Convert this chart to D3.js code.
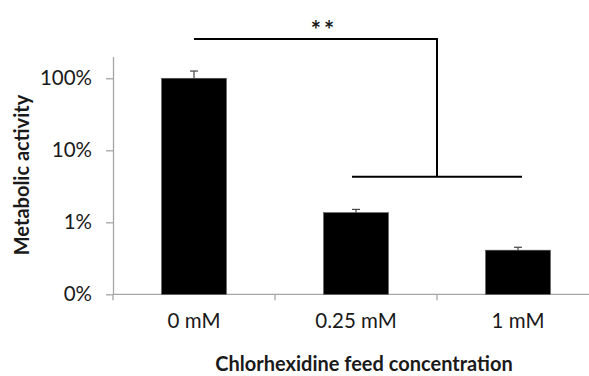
<!DOCTYPE html>
<html>
<head>
  <meta charset="utf-8">
  <script src="https://d3js.org/d3.v7.min.js"></script>
  <style>
    body { margin: 0; background: #fff; }
    svg text { font-family: Lato, "Open Sans", sans-serif; fill: #1a1a1a; }
  </style>
</head>
<body>
  <script type="text/javascript">
    // data
    var categories = ["0 mM", "0.25 mM", "1 mM"];
    var activity = [1.0, 0.0136, 0.0041];     // fraction of control
    var errors = [0.26, 0.0015, 0.0004];
    var tickValues = [0.001, 0.01, 0.1, 1];
    var tickLabels = ["0%", "1%", "10%", "100%"];
    var bracketTop = 3.5;      // level of the "**" bracket
    var bracketLow = 0.043;

    var w = 589;
    var h = 376;
    var plotLeft = 113, plotBottom = 294.3, plotTop = 56.6, plotRight = 599;

    var svg = d3.select("body")
      .append("svg")
      .attr("width", w)
      .attr("height", h);

    var yScale = d3.scaleLog()
                   .domain([0.001, 2])
                   .range([plotBottom, plotTop]);

    var xScale = d3.scaleBand()
                   .domain(categories)
                   .range([plotLeft, plotRight])
                   .paddingInner(0.6)
                   .paddingOuter(0.3);

    var step = xScale.step();

    // y axis
    var yAxis = d3.axisLeft(yScale)
                  .tickValues(tickValues)
                  .tickFormat(function(d, i){ return tickLabels[i]; })
                  .tickSize(7)
                  .tickSizeOuter(0)
                  .tickPadding(14);

    var gy = svg.append("g")
      .attr("transform", "translate(" + plotLeft + ",0)")
      .call(yAxis);
    gy.selectAll("path, line").attr("stroke", "#a6a6a6").attr("stroke-width", 1.3);
    gy.selectAll("text")
      .style("font-size", "20.5px")
      .style("font-family", "Lato, sans-serif")
      .attr("fill", "#1a1a1a");

    // x axis line + boundary ticks
    svg.append("line")
      .attr("x1", plotLeft).attr("x2", plotRight)
      .attr("y1", plotBottom).attr("y2", plotBottom)
      .attr("stroke", "#a6a6a6").attr("stroke-width", 1.3);

    svg.selectAll(".bound")
      .data(d3.range(categories.length + 1))
      .enter()
      .append("line")
      .attr("x1", function(i){ return plotLeft + i * step; })
      .attr("x2", function(i){ return plotLeft + i * step; })
      .attr("y1", plotBottom)
      .attr("y2", plotBottom + 6)
      .attr("stroke", "#a6a6a6").attr("stroke-width", 1.3);

    svg.selectAll(".xlab")
      .data(categories)
      .enter()
      .append("text")
      .attr("x", function(d){ return xScale(d) + xScale.bandwidth() / 2; })
      .attr("y", 328)
      .attr("text-anchor", "middle")
      .style("font-size", "20.5px")
      .text(function(d){ return d; });

    // bars
    svg.selectAll(".bar")
      .data(activity)
      .enter()
      .append("rect")
      .attr("x", function(d, i){ return xScale(categories[i]); })
      .attr("y", function(d){ return yScale(d); })
      .attr("width", xScale.bandwidth())
      .attr("height", function(d){ return plotBottom - yScale(d); })
      .attr("fill", "#000")
      .attr("stroke", "#555")
      .attr("stroke-width", 0.6);

    // error bars (upper half only visible)
    var eb = svg.selectAll(".err")
      .data(activity)
      .enter()
      .append("g");
    eb.append("line")
      .attr("x1", function(d, i){ return xScale(categories[i]) + xScale.bandwidth() / 2; })
      .attr("x2", function(d, i){ return xScale(categories[i]) + xScale.bandwidth() / 2; })
      .attr("y1", function(d){ return yScale(d); })
      .attr("y2", function(d, i){ return yScale(d + errors[i]); })
      .attr("stroke", "#444").attr("stroke-width", 1.2);
    eb.append("line")
      .attr("x1", function(d, i){ return xScale(categories[i]) + xScale.bandwidth() / 2 - 4; })
      .attr("x2", function(d, i){ return xScale(categories[i]) + xScale.bandwidth() / 2 + 4; })
      .attr("y1", function(d, i){ return yScale(d + errors[i]); })
      .attr("y2", function(d, i){ return yScale(d + errors[i]); })
      .attr("stroke", "#444").attr("stroke-width", 1.2);

    // significance bracket
    var c0 = xScale(categories[0]) + xScale.bandwidth() / 2;
    var c1 = xScale(categories[1]) + xScale.bandwidth() / 2;
    var c2 = xScale(categories[2]) + xScale.bandwidth() / 2;
    var mid = plotLeft + 2 * step;
    var yt = yScale(bracketTop), yl = yScale(bracketLow);

    svg.append("path")
      .attr("d", "M" + c0 + "," + yt + "H" + mid + "V" + yl)
      .attr("fill", "none").attr("stroke", "#000").attr("stroke-width", 2);
    svg.append("line")
      .attr("x1", c1 - 4).attr("x2", c2 + 4)
      .attr("y1", yl).attr("y2", yl)
      .attr("stroke", "#000").attr("stroke-width", 2);
    svg.append("text")
      .attr("x", 324)
      .attr("y", 39)
      .attr("text-anchor", "middle")
      .style("font-size", "24px")
      .style("font-weight", "bold")
      .style("letter-spacing", "3px")
      .text("**");

    // axis titles
    svg.append("text")
      .attr("x", 364)
      .attr("y", 371)
      .attr("text-anchor", "middle")
      .style("font-size", "20px")
      .style("font-weight", "bold")
      .text("Chlorhexidine feed concentration");

    svg.append("text")
      .attr("transform", "translate(29,175) rotate(-90)")
      .attr("text-anchor", "middle")
      .style("font-size", "20px")
      .style("font-weight", "bold")
      .text("Metabolic activity");
  </script>
</body>
</html>
